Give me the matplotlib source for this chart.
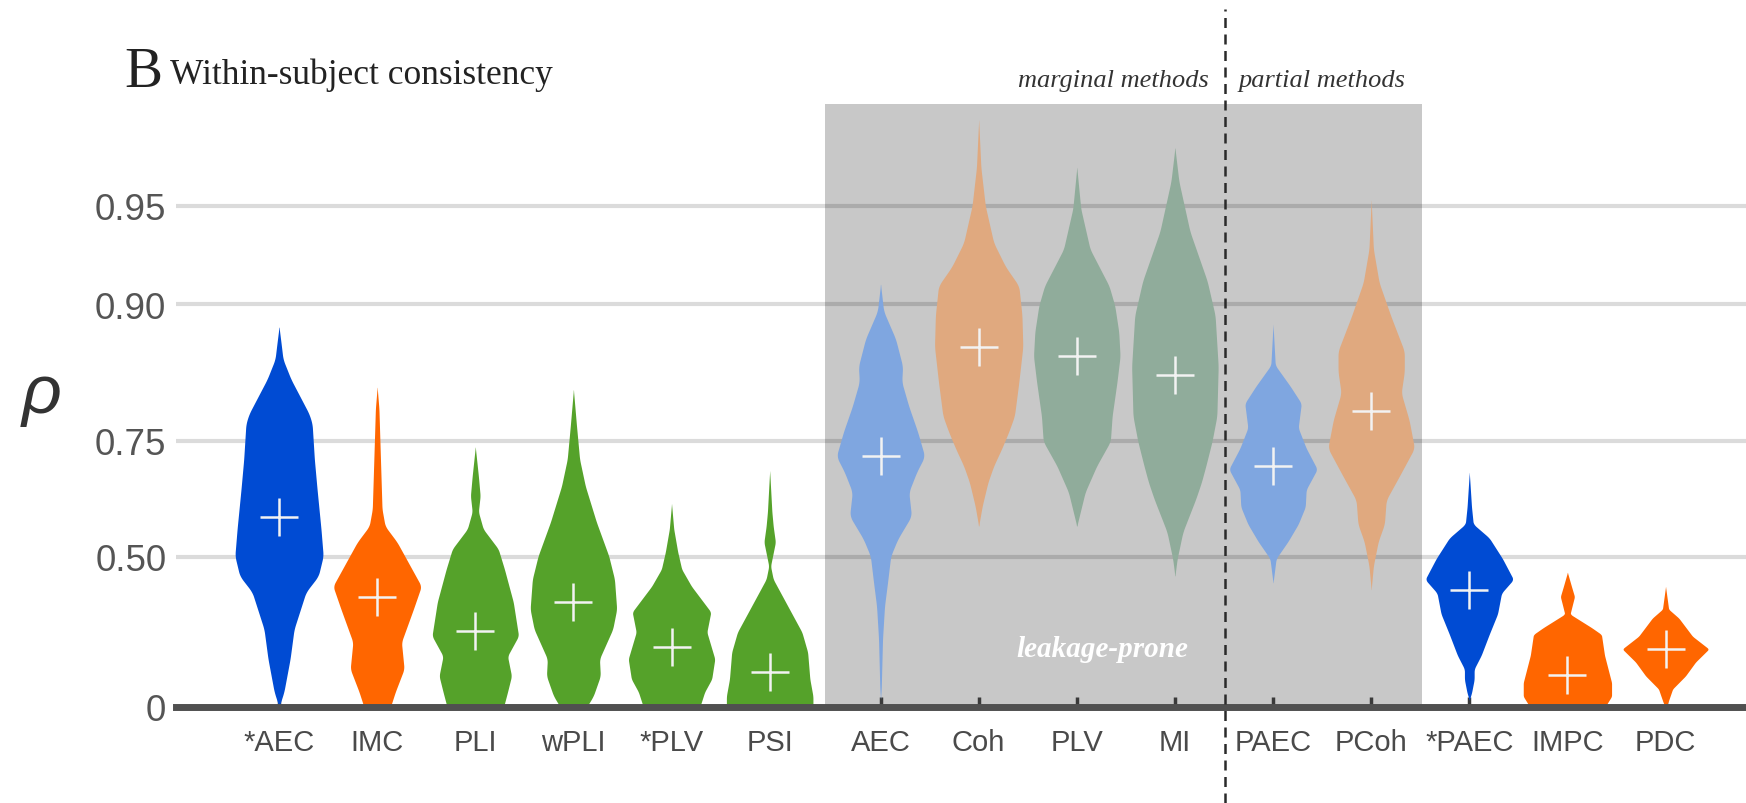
import numpy as np
import matplotlib
matplotlib.use("Agg")
import matplotlib.pyplot as plt
from matplotlib import font_manager
from matplotlib.transforms import blended_transform_factory

# ---------------- data ----------------
labels = ["*AEC", "IMC", "PLI", "wPLI", "*PLV", "PSI",
          "AEC", "Coh", "PLV", "MI", "PAEC", "PCoh", "*PAEC", "IMPC", "PDC"]
means = [0.600, 0.382, 0.271, 0.366, 0.216, 0.127,
         0.724, 0.866, 0.857, 0.838, 0.707, 0.794, 0.403, 0.115, 0.210]

# violin outlines: rho levels and relative density (1 = widest)
rho_AECs = [0.883, 0.868, 0.854, 0.833, 0.810, 0.790, 0.776, 0.719, 0.663, 0.572, 0.502, 0.445, 0.397, 0.277, 0.174, 0.055, 0.0]
den_AECs = [0, 0.05, 0.09, 0.27, 0.50, 0.68, 0.75, 0.80, 0.86, 0.95, 1.0, 0.89, 0.61, 0.34, 0.25, 0.11, 0]
rho_IMC = [0.824, 0.797, 0.719, 0.619, 0.579, 0.539, 0.485, 0.415, 0.343, 0.233, 0.138, 0.055, 0.0]
den_IMC = [0, 0.04, 0.075, 0.11, 0.18, 0.45, 0.70, 1.0, 0.82, 0.55, 0.61, 0.41, 0.30]
rho_PLI = [0.740, 0.688, 0.648, 0.613, 0.572, 0.521, 0.465, 0.366, 0.254, 0.184, 0.113, 0.055, 0.0]
den_PLI = [0, 0.07, 0.11, 0.07, 0.18, 0.52, 0.66, 0.86, 0.98, 0.73, 0.82, 0.73, 0.64]
rho_wPLI = [0.821, 0.773, 0.719, 0.668, 0.589, 0.502, 0.436, 0.343, 0.277, 0.174, 0.113, 0.040, 0.0]
den_wPLI = [0, 0.07, 0.14, 0.27, 0.52, 0.80, 0.93, 0.98, 0.89, 0.59, 0.61, 0.45, 0.30]
rho_PLVs = [0.631, 0.572, 0.513, 0.465, 0.415, 0.334, 0.267, 0.174, 0.102, 0.055, 0.0]
den_PLVs = [0, 0.05, 0.14, 0.23, 0.45, 0.89, 0.80, 0.98, 0.91, 0.75, 0.64]
rho_PSI = [0.698, 0.613, 0.579, 0.539, 0.474, 0.436, 0.353, 0.267, 0.198, 0.102, 0.040, 0.0]
den_PSI = [0, 0.05, 0.08, 0.13, 0.02, 0.08, 0.41, 0.73, 0.86, 0.91, 0.98, 0.98]
rho_AEC = [0.913, 0.895, 0.873, 0.847, 0.830, 0.800, 0.764, 0.724, 0.696, 0.656, 0.603, 0.547, 0.502, 0.428, 0.353, 0.244, 0.066, 0.029]
den_AEC = [0, 0.07, 0.34, 0.50, 0.48, 0.64, 0.84, 1.0, 0.82, 0.64, 0.70, 0.39, 0.23, 0.16, 0.09, 0.045, 0.016, 0]
rho_Coh = [0.973, 0.962, 0.950, 0.935, 0.923, 0.912, 0.892, 0.866, 0.830, 0.787, 0.764, 0.737, 0.707, 0.676, 0.626, 0.579]
den_Coh = [0, 0.05, 0.15, 0.34, 0.61, 0.91, 0.98, 1.0, 0.91, 0.81, 0.68, 0.52, 0.34, 0.21, 0.08, 0]
rho_PLV = [0.962, 0.949, 0.932, 0.912, 0.899, 0.879, 0.857, 0.830, 0.787, 0.749, 0.707, 0.656, 0.579]
den_PLV = [0, 0.09, 0.30, 0.73, 0.86, 0.95, 0.98, 0.91, 0.80, 0.76, 0.45, 0.19, 0]
rho_MI = [0.967, 0.958, 0.940, 0.915, 0.892, 0.847, 0.787, 0.749, 0.707, 0.676, 0.641, 0.565, 0.494, 0.445]
den_MI = [0, 0.09, 0.34, 0.73, 0.91, 0.98, 0.95, 0.84, 0.70, 0.60, 0.47, 0.18, 0.05, 0]
rho_PAEC = [0.885, 0.848, 0.825, 0.804, 0.770, 0.738, 0.701, 0.661, 0.624, 0.584, 0.541, 0.495, 0.425]
den_PAEC = [0, 0.05, 0.39, 0.64, 0.57, 0.75, 1.0, 0.75, 0.73, 0.57, 0.34, 0.07, 0]
rho_PCoh = [0.952, 0.932, 0.914, 0.891, 0.862, 0.841, 0.817, 0.781, 0.738, 0.688, 0.639, 0.584, 0.541, 0.475, 0.404]
den_PCoh = [0, 0.05, 0.18, 0.45, 0.75, 0.75, 0.68, 0.86, 0.98, 0.64, 0.34, 0.30, 0.16, 0.05, 0]
rho_PAECs = [0.695, 0.624, 0.584, 0.550, 0.495, 0.435, 0.394, 0.328, 0.259, 0.187, 0.138, 0.100, 0.051, 0.026]
den_PAECs = [0, 0.05, 0.09, 0.45, 0.75, 1.0, 0.73, 0.64, 0.45, 0.27, 0.11, 0.11, 0.05, 0]
rho_IMPC = [0.456, 0.415, 0.383, 0.350, 0.327, 0.282, 0.259, 0.187, 0.089, 0.039, 0.0]
den_IMPC = [0, 0.09, 0.16, 0.10, 0.06, 0.55, 0.77, 0.84, 1.0, 1.0, 0.85]
rho_PDC = [0.414, 0.343, 0.314, 0.253, 0.209, 0.163, 0.113, 0.066, 0.015, 0.0]
den_PDC = [0, 0.07, 0.30, 0.61, 0.98, 0.68, 0.45, 0.16, 0.05, 0.0]

profiles = [(rho_AECs, den_AECs), (rho_IMC, den_IMC), (rho_PLI, den_PLI),
            (rho_wPLI, den_wPLI), (rho_PLVs, den_PLVs), (rho_PSI, den_PSI),
            (rho_AEC, den_AEC), (rho_Coh, den_Coh), (rho_PLV, den_PLV),
            (rho_MI, den_MI), (rho_PAEC, den_PAEC), (rho_PCoh, den_PCoh),
            (rho_PAECs, den_PAECs), (rho_IMPC, den_IMPC), (rho_PDC, den_PDC)]

yticks = [0, 0.50, 0.75, 0.90, 0.95]
ytick_labels = ["0", "0.50", "0.75", "0.90", "0.95"]

# ---------------- style ----------------
BLUE, ORANGE, GREEN = "#004BD3", "#FF6600", "#55A22A"
LBLUE, PEACH, SAGE = "#7FA6E0", "#E0A97F", "#90AC9B"
colors = [BLUE, ORANGE, GREEN, GREEN, GREEN, GREEN,
          LBLUE, PEACH, SAGE, SAGE, LBLUE, PEACH,
          BLUE, ORANGE, ORANGE]
HALF_W = 0.45
GAP = 0.13
positions = [i + (GAP if i >= 6 else 0) for i in range(len(labels))]

avail = {f.name for f in font_manager.fontManager.ttflist}
narrow = "Liberation Sans Narrow" if "Liberation Sans Narrow" in avail else "Liberation Sans"
SANS = "Liberation Sans"
SERIF = "Liberation Serif"

fig = plt.figure(figsize=(17.46, 8.04), dpi=100)
ax = fig.add_axes([176 / 1746, 1 - 708 / 804, 1 - 176 / 1746, (708 - 105) / 804])
ax.set_yscale("function", functions=(lambda r: np.arctanh(np.clip(r, -0.999999, 0.999999)),
                                     np.tanh))
ytop = np.tanh((708 - 105) / 273.6)
ax.set_ylim(0, ytop)
ax.set_xlim(-1.05, 14.95)

# leakage-prone box
ax.axvspan(5.565, 11.65, color="#C8C8C8", lw=0, zorder=0)

# gridlines
for v in yticks[1:]:
    ax.axhline(v, color="black", alpha=0.14, lw=3.0, zorder=1)

# violins
for p, (rr, dd), c, m in zip(positions, profiles, colors, means):
    rr = np.asarray(rr, float)
    dd = np.asarray(dd, float)
    z = np.arctanh(rr)
    order = np.argsort(z)
    z, dd = z[order], dd[order]
    zg = np.linspace(z[0], z[-1], 600)
    dg = np.interp(zg, z, dd)
    k = 15
    pad = np.pad(dg, k // 2, mode="edge")
    ds = np.convolve(pad, np.ones(k) / k, mode="valid")
    ds[0], ds[-1] = dg[0], dg[-1]
    rg = np.tanh(zg)
    ax.fill_betweenx(rg, p - ds * HALF_W, p + ds * HALF_W, color=c, lw=0, zorder=3)
    ax.plot([p], [m], marker="+", ms=27, mew=1.8, color="#F2F2F2", zorder=4)

# axes styling
for s in ["top", "right", "left"]:
    ax.spines[s].set_visible(False)
ax.spines["bottom"].set_linewidth(5)
ax.spines["bottom"].set_color("#505050")
ax.spines["bottom"].set_zorder(3.5)
ax.set_xticks(positions)
ax.set_xticklabels(labels, fontfamily=narrow, fontsize=21, color="#4A4A4A")
ax.tick_params(axis="x", direction="in", length=7, width=2.5, color="#3A3A3A", pad=15)
ax.set_yticks(yticks)
ax.set_yticklabels(ytick_labels, fontfamily=SANS, fontsize=26.5, color="#555555")
ax.tick_params(axis="y", length=0, pad=7)
ax.yaxis.set_minor_locator(matplotlib.ticker.NullLocator())

# dashed separator
tr = blended_transform_factory(ax.transData, fig.transFigure)
ax.plot([9.64, 9.64], [0.0, 0.987], transform=tr, color="#2A2A2A", lw=1.8,
        ls=(0, (4, 2.6)), clip_on=False, zorder=5)

# texts
ax.text(9.64 - 0.17, 1 - 87 / 804, "marginal methods", transform=tr, ha="right",
        va="baseline", fontfamily=SERIF, style="italic", fontsize=19, color="#333333")
ax.text(9.64 + 0.14, 1 - 87 / 804, "partial methods", transform=tr, ha="left",
        va="baseline", fontfamily=SERIF, style="italic", fontsize=19, color="#333333")
ax.text(8.39, 0.212, "leakage-prone", ha="center", va="center", fontfamily=SERIF,
        style="italic", fontweight="bold", fontsize=21, color="white", zorder=5)

fig.text(124 / 1746, 1 - 87 / 804, "B", fontfamily=SERIF, fontsize=41,
         ha="left", va="baseline", color="#222222")
fig.text(170 / 1746, 1 - 84 / 804, "Within-subject consistency", fontfamily=SERIF,
         fontsize=25.5, ha="left", va="baseline", color="#222222")
fig.text(42 / 1746, 1 - 395 / 804, "ρ", fontfamily=SANS, style="italic", fontsize=50,
         ha="center", va="center", color="#333333")

fig.savefig("out.png", dpi=100)
